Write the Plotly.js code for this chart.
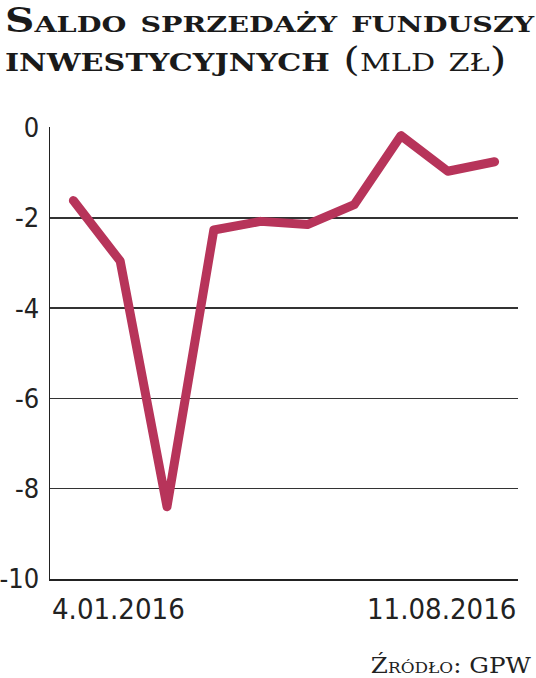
<!DOCTYPE html>
<html>
<head>
<meta charset="utf-8">
<script src="https://cdn.plot.ly/plotly-3.0.1.min.js"></script>
<style>
html,body{margin:0;padding:0;background:#fff;}
#chart{width:536px;height:678px;}
.js-line{stroke-linecap:round;stroke-linejoin:round;}
</style>
</head>
<body>
<div id="chart"></div>
<script>
// Data (weekly fund sales balance, bn PLN)
const pointIndex = [0, 1, 2, 3, 4, 5, 6, 7, 8, 9];
const saldo = [-1.62, -2.96, -8.4, -2.27, -2.08, -2.15, -1.71, -0.18, -0.97, -0.76];
const yTicks = [0, -2, -4, -6, -8, -10];
const yTickLabels = ['0', '-2', '-4', '-6', '-8', '-10'];
const xLabels = ['4.01.2016', '11.08.2016'];
const titleMain1 = 'Saldo sprzedaży funduszy';
const titleMain2 = 'inwestycyjnych';
const titleUnit = '(mld zł)';
const sourceText = 'Źródło: GPW';

const lineColor = '#b7345a';
const condensed = '"DejaVu Sans Condensed", "DejaVu Sans", sans-serif';
const serif = '"DejaVu Serif", serif';
const titleFont = {family: serif, size: 33, color: '#1a1a1a', variant: 'small-caps'};

const data = [{
  x: pointIndex,
  y: saldo,
  type: 'scatter',
  mode: 'lines',
  line: {color: lineColor, width: 9},
  hoverinfo: 'skip'
}];

const layout = {
  width: 536,
  height: 678,
  margin: {l: 50, r: 18, t: 127, b: 99},
  paper_bgcolor: '#ffffff',
  plot_bgcolor: '#ffffff',
  showlegend: false,
  xaxis: {
    range: [-0.5, 9.5],
    showgrid: false,
    zeroline: false,
    showline: true,
    linecolor: '#222',
    linewidth: 1.5,
    showticklabels: false,
    ticks: '',
    fixedrange: true
  },
  yaxis: {
    range: [-10, 0.01],
    tickvals: yTicks,
    ticktext: yTickLabels,
    showgrid: true,
    gridcolor: '#333',
    gridwidth: 1.5,
    zeroline: false,
    showline: true,
    linecolor: '#222',
    linewidth: 1.5,
    ticks: '',
    ticklabelstandoff: 4,
    tickfont: {family: condensed, size: 27, color: '#222'},
    fixedrange: true
  },
  annotations: [
    {text: '<b>' + titleMain1 + '</b>',
     xref: 'paper', yref: 'paper', x: 0, y: 1, xshift: -47, yshift: 128, xanchor: 'left', yanchor: 'top', align: 'left',
     showarrow: false, font: titleFont},
    {text: '<b>' + titleMain2 + '</b> ' + titleUnit,
     xref: 'paper', yref: 'paper', x: 0, y: 1, xshift: -47, yshift: 89, xanchor: 'left', yanchor: 'top', align: 'left',
     showarrow: false, font: titleFont},
    {text: xLabels[0], xref: 'paper', yref: 'paper', x: 0, y: 0, xanchor: 'left', yanchor: 'top', yshift: -11, showarrow: false,
     font: {family: condensed, size: 29, color: '#222'}},
    {text: xLabels[1], xref: 'paper', yref: 'paper', x: 1, y: 0, xanchor: 'right', yanchor: 'top', yshift: -11, showarrow: false,
     font: {family: condensed, size: 29, color: '#222'}},
    {text: sourceText, xref: 'paper', yref: 'paper', x: 1, y: 0, xanchor: 'right', yanchor: 'bottom', xshift: 15, yshift: -101, showarrow: false,
     font: {family: serif, size: 22, color: '#222', variant: 'small-caps'}}
  ]
};

// horizontal stretch of a text so that it spans a target width (keeps it real text)
function stretchTo(el, targetWidth, anchorRight) {
  const bb = el.getBBox();
  const s = targetWidth / bb.width;
  const ax = anchorRight ? bb.x + bb.width : bb.x;
  el.setAttribute('transform', 'translate(' + ax + ',0) scale(' + s + ',1) translate(' + (-ax) + ',0)');
}

Plotly.newPlot('chart', data, layout, {displayModeBar: false, staticPlot: true}).then(function (gd) {
  const texts = gd.querySelectorAll('.annotation-text');
  stretchTo(texts[0], 527, false);
  stretchTo(texts[1], 494, false);
  stretchTo(texts[4], 160, true);
});
</script>
</body>
</html>
